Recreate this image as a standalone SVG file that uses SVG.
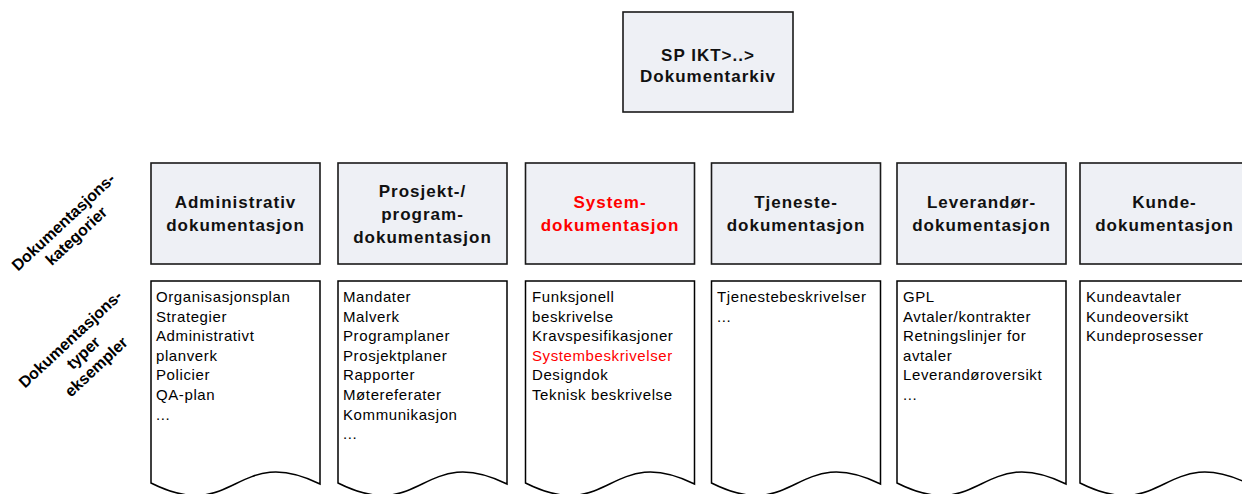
<svg xmlns="http://www.w3.org/2000/svg" width="1242" height="494" viewBox="0 0 1242 494">
<style>
.hdr{fill:#eef0f5;stroke:#1a1a1a;stroke-width:1.6}
.doc{fill:#ffffff;stroke:#000000;stroke-width:1.5}
.ht{font-family:"Liberation Sans",Arial,sans-serif;font-weight:bold;font-size:17px;letter-spacing:1px;text-anchor:middle;fill:#111111}
.dt{font-family:"Liberation Sans",Arial,sans-serif;font-size:15px;letter-spacing:0.6px;fill:#000000}
.lbl{font-family:"Liberation Sans",Arial,sans-serif;font-weight:bold;font-size:16px;text-anchor:middle;fill:#000000}
text.red{fill:#ff0000}
</style>
<defs>
<path id="docshape" d="M0,0 H169 V203 C84.5,161.4 84.5,244.6 0,202 Z"/>
</defs>
<rect width="1242" height="494" fill="#ffffff"/>

<g id="root">
<rect class="hdr" x="623" y="12" width="170" height="100"/>
<text class="ht" x="708" y="61">SP IKT&gt;..&gt;</text>
<text class="ht" x="708" y="82">Dokumentarkiv</text>
</g>

<g id="label-kategorier" transform="translate(67,226) rotate(-43)">
<text class="lbl" x="0" y="0">Dokumentasjons-</text>
<text class="lbl" x="0" y="19">kategorier</text>
</g>
<g id="label-typer" transform="translate(74,343) rotate(-43)">
<text class="lbl" x="0" y="0">Dokumentasjons-</text>
<text class="lbl" x="0" y="19">typer</text>
<text class="lbl" x="0" y="38">eksempler</text>
</g>

<g id="cat-admin">
<rect class="hdr" x="151" y="163" width="169" height="101"/>
<text class="ht" x="235.5" y="208">Administrativ</text>
<text class="ht" x="235.5" y="231">dokumentasjon</text>
</g>
<g id="cat-prosjekt">
<rect class="hdr" x="338" y="163" width="169" height="101"/>
<text class="ht" x="422.5" y="196.5">Prosjekt-/</text>
<text class="ht" x="422.5" y="219.5">program-</text>
<text class="ht" x="422.5" y="242.5">dokumentasjon</text>
</g>
<g id="cat-system">
<rect class="hdr" x="525.5" y="163" width="169" height="101"/>
<text class="ht red" x="610" y="208">System-</text>
<text class="ht red" x="610" y="231">dokumentasjon</text>
</g>
<g id="cat-tjeneste">
<rect class="hdr" x="711.5" y="163" width="169" height="101"/>
<text class="ht" x="796" y="208">Tjeneste-</text>
<text class="ht" x="796" y="231">dokumentasjon</text>
</g>
<g id="cat-leverandor">
<rect class="hdr" x="897" y="163" width="169" height="101"/>
<text class="ht" x="981.5" y="208">Leverandør-</text>
<text class="ht" x="981.5" y="231">dokumentasjon</text>
</g>
<g id="cat-kunde">
<rect class="hdr" x="1080" y="163" width="169" height="101"/>
<text class="ht" x="1164.5" y="208">Kunde-</text>
<text class="ht" x="1164.5" y="231">dokumentasjon</text>
</g>

<g id="doc-admin">
<use href="#docshape" class="doc" transform="translate(151,281)"/>
<text class="dt" x="156" y="302">Organisasjonsplan</text>
<text class="dt" x="156" y="321.6">Strategier</text>
<text class="dt" x="156" y="341.2">Administrativt</text>
<text class="dt" x="156" y="360.8">planverk</text>
<text class="dt" x="156" y="380.4">Policier</text>
<text class="dt" x="156" y="400">QA-plan</text>
<text class="dt" x="156" y="419.6">...</text>
</g>
<g id="doc-prosjekt">
<use href="#docshape" class="doc" transform="translate(338,281)"/>
<text class="dt" x="343" y="302">Mandater</text>
<text class="dt" x="343" y="321.6">Malverk</text>
<text class="dt" x="343" y="341.2">Programplaner</text>
<text class="dt" x="343" y="360.8">Prosjektplaner</text>
<text class="dt" x="343" y="380.4">Rapporter</text>
<text class="dt" x="343" y="400">Møtereferater</text>
<text class="dt" x="343" y="419.6">Kommunikasjon</text>
<text class="dt" x="343" y="439.2">...</text>
</g>
<g id="doc-system">
<use href="#docshape" class="doc" transform="translate(525.5,281)"/>
<text class="dt" x="532" y="302">Funksjonell</text>
<text class="dt" x="532" y="321.6">beskrivelse</text>
<text class="dt" x="532" y="341.2">Kravspesifikasjoner</text>
<text class="dt red" x="532" y="360.8">Systembeskrivelser</text>
<text class="dt" x="532" y="380.4">Designdok</text>
<text class="dt" x="532" y="400">Teknisk beskrivelse</text>
</g>
<g id="doc-tjeneste">
<use href="#docshape" class="doc" transform="translate(711.5,281)"/>
<text class="dt" x="717" y="302">Tjenestebeskrivelser</text>
<text class="dt" x="717" y="321.6">...</text>
</g>
<g id="doc-leverandor">
<use href="#docshape" class="doc" transform="translate(897,281)"/>
<text class="dt" x="903" y="302">GPL</text>
<text class="dt" x="903" y="321.6">Avtaler/kontrakter</text>
<text class="dt" x="903" y="341.2">Retningslinjer for</text>
<text class="dt" x="903" y="360.8">avtaler</text>
<text class="dt" x="903" y="380.4">Leverandøroversikt</text>
<text class="dt" x="903" y="400">...</text>
</g>
<g id="doc-kunde">
<use href="#docshape" class="doc" transform="translate(1080,281)"/>
<text class="dt" x="1086" y="302">Kundeavtaler</text>
<text class="dt" x="1086" y="321.6">Kundeoversikt</text>
<text class="dt" x="1086" y="341.2">Kundeprosesser</text>
</g>

<g id="connectors"></g>
</svg>
